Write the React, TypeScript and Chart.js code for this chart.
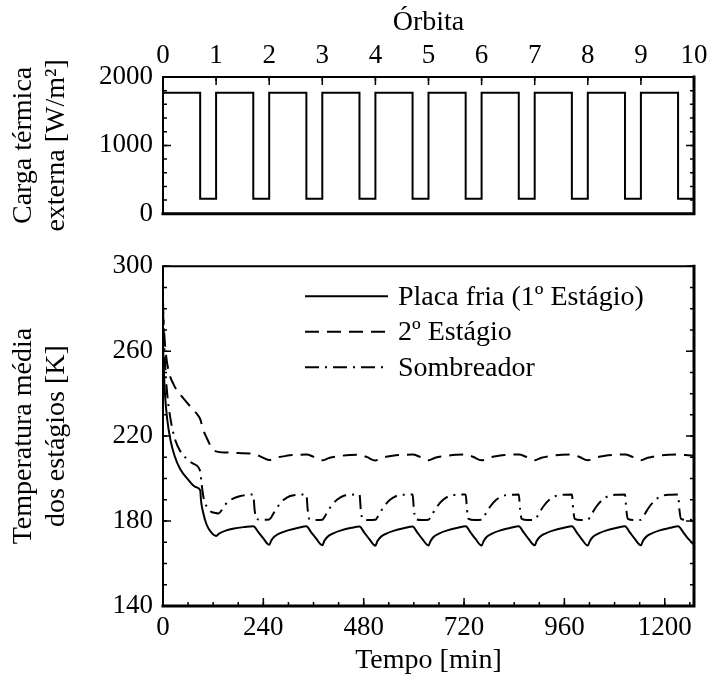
import React, { useEffect, useRef } from 'react';
import { Chart, registerables } from 'chart.js';

Chart.register(...registerables);

// ---------- data ----------
const ORBIT_TICKS = [0, 1, 2, 3, 4, 5, 6, 7, 8, 9, 10];
const LOAD_TICKS = [0, 1000, 2000];
const TIME_TICKS = [0, 240, 480, 720, 960, 1200];
const TEMP_TICKS = [140, 180, 220, 260, 300];

const HEAT_ORBIT = [
  0, 0.7, 0.7, 1, 1, 1.7, 1.7, 2, 2, 2.7, 2.7, 3, 3, 3.7, 3.7, 4, 4, 4.7, 4.7, 5,
  5, 5.7, 5.7, 6, 6, 6.7, 6.7, 7, 7, 7.7, 7.7, 8, 8, 8.7, 8.7, 9, 9, 9.7, 9.7, 10,
];
const HEAT_LOAD = [
  1770, 1770, 220, 220, 1770, 1770, 220, 220, 1770, 1770, 220, 220, 1770, 1770, 220, 220,
  1770, 1770, 220, 220, 1770, 1770, 220, 220, 1770, 1770, 220, 220, 1770, 1770, 220, 220,
  1770, 1770, 220, 220, 1770, 1770, 220, 220,
];

const SERIES_LABELS = ['Placa fria (1º Estágio)', '2º Estágio', 'Sombreador'];

const TIME_PLACA = [
  0, 2, 5, 10, 18, 28, 41, 60, 78, 89, 91, 96, 104, 114, 127,
  135, 150, 170, 195, 216, 228, 240, 254,
  259, 266, 279, 299, 324, 343, 354, 366, 381,
  386, 393, 406, 426, 451, 470, 481, 493, 508,
  513, 520, 533, 553, 578, 597, 608, 620, 635,
  640, 647, 660, 680, 705, 724, 735, 747, 762,
  767, 774, 787, 807, 832, 851, 862, 874, 889,
  894, 901, 914, 934, 959, 978, 989, 1001, 1016,
  1021, 1028, 1041, 1061, 1086, 1105, 1116, 1128, 1143,
  1148, 1155, 1168, 1188, 1213, 1232, 1244, 1256, 1270,
];
const TEMP_PLACA = [
  265, 251, 239, 228, 218, 210.5, 204.5, 199.5, 196, 194.5, 189.5, 184, 178.5, 175, 173,
  174.2, 175.5, 176.5, 177.2, 177.6, 174.8, 171.8, 168.8,
  170.8, 172.6, 174.2, 175.6, 176.8, 177.5, 174.8, 171.8, 168.6,
  170.7, 172.5, 174.1, 175.6, 176.8, 177.4, 174.7, 171.6, 168.4,
  170.6, 172.4, 174, 175.5, 176.7, 177.4, 174.7, 171.6, 168.5,
  170.6, 172.5, 174.1, 175.6, 176.8, 177.5, 174.8, 171.7, 168.5,
  170.6, 172.5, 174.1, 175.6, 176.8, 177.5, 174.8, 171.7, 168.6,
  170.7, 172.5, 174.1, 175.6, 176.8, 177.5, 174.8, 171.6, 168.5,
  170.6, 172.5, 174.1, 175.6, 176.8, 177.5, 174.8, 171.7, 168.6,
  170.7, 172.5, 174.1, 175.6, 176.8, 177.6, 174.8, 171.7, 168.8,
];

const TIME_ESTAGIO2 = [
  0, 3, 8, 15, 25, 35, 48, 65, 81, 89, 96, 105, 115, 127,
  150, 180, 216, 235, 254,
  270, 295, 320, 343, 360, 381,
  397, 422, 447, 470, 487, 508,
  524, 549, 574, 597, 614, 635,
  651, 676, 701, 724, 741, 762,
  778, 803, 828, 851, 868, 889,
  905, 930, 955, 978, 995, 1016,
  1032, 1057, 1082, 1105, 1122, 1143,
  1159, 1184, 1209, 1232, 1250, 1270,
];
const TEMP_ESTAGIO2 = [
  279, 268, 257, 249.5, 244.5, 241, 238, 234, 230.5, 228, 223, 219, 215, 212.8,
  212.3, 212, 211.7, 210.2, 208.7,
  209.8, 210.7, 211.2, 211.3, 210.3, 208.6,
  209.7, 210.6, 211.1, 211.2, 210.2, 208.5,
  209.8, 210.7, 211.2, 211.3, 210.3, 208.6,
  209.8, 210.7, 211.2, 211.3, 210.3, 208.6,
  209.8, 210.7, 211.2, 211.3, 210.3, 208.6,
  209.8, 210.7, 211.2, 211.3, 210.3, 208.6,
  209.8, 210.7, 211.2, 211.3, 210.3, 208.6,
  209.8, 210.7, 211.2, 211.3, 211.1, 210.8,
];

const TIME_SOMBREADOR = [
  0, 2, 5, 10, 18, 28, 41, 56, 72, 89, 92, 97, 104, 114, 127,
  132, 140, 150, 165, 185, 205, 216, 219, 223, 237, 254,
  259, 266, 276, 289, 304, 324, 343, 346, 350, 364, 381,
  386, 393, 403, 416, 431, 451, 470, 473, 477, 491, 508,
  513, 520, 530, 543, 558, 578, 597, 600, 604, 618, 635,
  640, 647, 657, 670, 685, 705, 724, 727, 731, 745, 762,
  767, 774, 784, 797, 812, 832, 851, 854, 858, 872, 889,
  894, 901, 911, 924, 939, 959, 978, 981, 985, 999, 1016,
  1021, 1028, 1038, 1051, 1066, 1086, 1105, 1108, 1112, 1126, 1143,
  1148, 1155, 1165, 1178, 1193, 1213, 1232, 1235, 1239, 1253, 1270,
];
const TEMP_SOMBREADOR = [
  284, 268, 254, 240, 228, 219, 213, 209.5, 207, 203.5, 198, 191, 187, 184.5, 183.8,
  183.5, 185, 188, 190.3, 191.8, 192.4, 192.5, 185.5, 181, 180.6, 180.7,
  181.8, 184.2, 187.2, 190, 191.8, 192.4, 192.5, 185.5, 181, 180.5, 180.6,
  181.8, 184.2, 187.2, 190, 191.8, 192.4, 192.5, 185.5, 181, 180.5, 180.6,
  181.8, 184.2, 187.2, 190, 191.8, 192.4, 192.5, 185.5, 181, 180.5, 180.6,
  181.8, 184.2, 187.2, 190, 191.8, 192.4, 192.5, 185.5, 181, 180.5, 180.6,
  181.8, 184.2, 187.2, 190, 191.8, 192.4, 192.5, 185.5, 181, 180.5, 180.6,
  181.8, 184.2, 187.2, 190, 191.8, 192.4, 192.5, 185.5, 181, 180.5, 180.6,
  181.8, 184.2, 187.2, 190, 191.8, 192.4, 192.5, 185.5, 181, 180.5, 180.6,
  181.8, 184.2, 187.2, 190, 191.8, 192.4, 192.5, 185.5, 181, 180.5, 180.6,
];

// ---------- styling helpers ----------
const FAMILY = "'Liberation Serif', 'Times New Roman', serif";
const TICK_FONT = { family: FAMILY, size: 27, lineHeight: 1.2 };
const TITLE_FONT = { family: FAMILY, size: 28, lineHeight: 33 / 28 };
const INK = '#000';
const plain = (v: any) => String(v);

const pts = (xs: number[], ys: number[]) => xs.map((x, i) => ({ x, y: ys[i] }));

// frame + inward ticks drawn with the chart's own scales
const frameTicks = {
  id: 'frameTicks',
  afterDraw(chart: any, _args: any, opts: any) {
    const { ctx, chartArea: a, scales } = chart;
    const xs = scales.x;
    const ys = scales.y;
    ctx.save();
    ctx.strokeStyle = INK;
    ctx.lineWidth = 1.5;
    const xside = opts.xSide;
    const drawX = (v: number, len: number) => {
      const px = xs.getPixelForValue(v);
      ctx.beginPath();
      if (xside === 'top') {
        ctx.moveTo(px, a.top);
        ctx.lineTo(px, a.top + len);
      } else {
        ctx.moveTo(px, a.bottom);
        ctx.lineTo(px, a.bottom - len);
      }
      ctx.stroke();
    };
    for (let v = xs.min; v <= xs.max + 1e-9; v += opts.xMinor) drawX(v, 4);
    for (let v = xs.min; v <= xs.max + 1e-9; v += opts.xMajor) drawX(v, 8);
    const drawY = (v: number, len: number) => {
      const py = ys.getPixelForValue(v);
      ctx.beginPath();
      ctx.moveTo(a.left, py);
      ctx.lineTo(a.left + len, py);
      ctx.moveTo(a.right, py);
      ctx.lineTo(a.right - len, py);
      ctx.stroke();
    };
    for (let v = ys.min; v <= ys.max + 1e-9; v += opts.yMinor) drawY(v, 4);
    for (let v = ys.min; v <= ys.max + 1e-9; v += opts.yMajor) drawY(v, 8);
    // frame: thinner top/left, heavier right/bottom as in the scan
    ctx.lineCap = 'square';
    ctx.lineWidth = 2;
    ctx.beginPath();
    ctx.moveTo(a.left, a.bottom);
    ctx.lineTo(a.left, a.top);
    ctx.lineTo(a.right, a.top);
    ctx.stroke();
    ctx.lineWidth = 3;
    ctx.beginPath();
    ctx.moveTo(a.right, a.top);
    ctx.lineTo(a.right, a.bottom);
    ctx.lineTo(a.left, a.bottom);
    ctx.stroke();
    ctx.restore();
  },
};

// legend drawn inside the plot area
const innerLegend = {
  id: 'innerLegend',
  afterDraw(chart: any, _args: any, opts: any) {
    if (!opts || !opts.display) return;
    const { ctx, chartArea: a } = chart;
    ctx.save();
    ctx.font = `28px ${FAMILY}`;
    ctx.fillStyle = INK;
    ctx.textBaseline = 'middle';
    ctx.textAlign = 'left';
    chart.data.datasets.forEach((ds: any, i: number) => {
      const y = a.top + opts.top + i * opts.rowGap;
      const x0 = a.left + opts.left;
      ctx.strokeStyle = ds.borderColor;
      ctx.lineWidth = ds.borderWidth;
      ctx.setLineDash(ds.borderDash || []);
      ctx.beginPath();
      ctx.moveTo(x0, y);
      ctx.lineTo(x0 + opts.lineLen, y);
      ctx.stroke();
      ctx.setLineDash([]);
      ctx.fillText(ds.label, x0 + opts.lineLen + opts.textGap, y + 1);
    });
    ctx.restore();
  },
};

function TopChart() {
  const ref = useRef<HTMLCanvasElement>(null);
  useEffect(() => {
    const chart = new Chart(ref.current as HTMLCanvasElement, {
      type: 'line',
      data: {
        datasets: [
          {
            label: 'Carga térmica externa',
            data: pts(HEAT_ORBIT, HEAT_LOAD),
            borderColor: INK,
            borderWidth: 2,
            pointRadius: 0,
            tension: 0,
            fill: false,
          },
        ],
      },
      options: {
        responsive: false,
        animation: false,
        events: [],
        layout: { padding: { left: 0, right: 19, top: 0, bottom: 24 } },
        plugins: {
          legend: { display: false },
          tooltip: { enabled: false },
          frameTicks: { xSide: 'top', xMajor: 1, xMinor: 1, yMajor: 1000, yMinor: 200 },
        } as any,
        scales: {
          x: {
            type: 'linear',
            position: 'top',
            min: 0,
            max: 10,
            afterBuildTicks: (s: any) => {
              s.ticks = ORBIT_TICKS.map((v) => ({ value: v }));
            },
            afterFit: (s: any) => {
              s.height = 77;
            },
            grid: { display: false, drawTicks: false, tickLength: 0 },
            border: { display: false },
            ticks: { font: TICK_FONT, color: INK, padding: 5, maxRotation: 0, autoSkip: false, callback: plain },
            title: { display: true, text: 'Órbita', font: TITLE_FONT, color: INK, padding: { top: 6, bottom: 0 } },
          },
          y: {
            type: 'linear',
            position: 'left',
            min: 0,
            max: 2000,
            afterBuildTicks: (s: any) => {
              s.ticks = LOAD_TICKS.map((v) => ({ value: v }));
            },
            afterFit: (s: any) => {
              s.width = 163;
            },
            grid: { display: false, drawTicks: false, tickLength: 0 },
            border: { display: false },
            ticks: { font: TICK_FONT, color: INK, padding: 10, callback: plain },
            title: {
              display: true,
              text: ['Carga térmica', 'externa [W/m²]'],
              font: TITLE_FONT,
              color: INK,
              padding: { top: 7, bottom: 0 },
            },
          },
        },
      } as any,
      plugins: [frameTicks],
    });
    return () => chart.destroy();
  }, []);
  return <canvas ref={ref} width={713} height={240} style={{ position: 'absolute', left: 0, top: 0 }} />;
}

function BottomChart() {
  const ref = useRef<HTMLCanvasElement>(null);
  useEffect(() => {
    const common = { borderColor: INK, borderWidth: 2, pointRadius: 0, fill: false, cubicInterpolationMode: 'monotone' };
    const chart = new Chart(ref.current as HTMLCanvasElement, {
      type: 'line',
      data: {
        datasets: [
          { ...common, label: SERIES_LABELS[0], data: pts(TIME_PLACA, TEMP_PLACA), borderDash: [] },
          { ...common, label: SERIES_LABELS[1], data: pts(TIME_ESTAGIO2, TEMP_ESTAGIO2), borderDash: [14, 8] },
          { ...common, label: SERIES_LABELS[2], data: pts(TIME_SOMBREADOR, TEMP_SOMBREADOR), borderDash: [14, 6, 2, 6] },
        ],
      },
      options: {
        responsive: false,
        animation: false,
        events: [],
        layout: { padding: { left: 0, right: 19, top: 21, bottom: 0 } },
        plugins: {
          legend: { display: false },
          tooltip: { enabled: false },
          frameTicks: { xSide: 'bottom', xMajor: 240, xMinor: 60, yMajor: 40, yMinor: 10 },
          innerLegend: { display: true, left: 142, lineLen: 83, textGap: 10, top: 30, rowGap: 35.5 },
        } as any,
        scales: {
          x: {
            type: 'linear',
            position: 'bottom',
            min: 0,
            max: 1270,
            afterBuildTicks: (s: any) => {
              s.ticks = TIME_TICKS.map((v) => ({ value: v }));
            },
            afterFit: (s: any) => {
              s.height = 77;
            },
            grid: { display: false, drawTicks: false, tickLength: 0 },
            border: { display: false },
            ticks: { font: TICK_FONT, color: INK, padding: 6, maxRotation: 0, autoSkip: false, callback: plain },
            title: { display: true, text: 'Tempo [min]', font: TITLE_FONT, color: INK, padding: { top: 0, bottom: 6 } },
          },
          y: {
            type: 'linear',
            position: 'left',
            min: 140,
            max: 300,
            afterBuildTicks: (s: any) => {
              s.ticks = TEMP_TICKS.map((v) => ({ value: v }));
            },
            afterFit: (s: any) => {
              s.width = 163;
            },
            grid: { display: false, drawTicks: false, tickLength: 0 },
            border: { display: false },
            ticks: { font: TICK_FONT, color: INK, padding: 10, callback: plain },
            title: {
              display: true,
              text: ['Temperatura média', 'dos estágios [K]'],
              font: TITLE_FONT,
              color: INK,
              padding: { top: 7, bottom: 0 },
            },
          },
        },
      } as any,
      plugins: [frameTicks, innerLegend],
    });
    return () => chart.destroy();
  }, []);
  return <canvas ref={ref} width={713} height={443} style={{ position: 'absolute', left: 0, top: 240 }} />;
}

export default function App() {
  return (
    <div style={{ position: 'absolute', left: 0, top: 0, width: 713, height: 683, background: '#fff', overflow: 'hidden' }}>
      <TopChart />
      <BottomChart />
    </div>
  );
}
